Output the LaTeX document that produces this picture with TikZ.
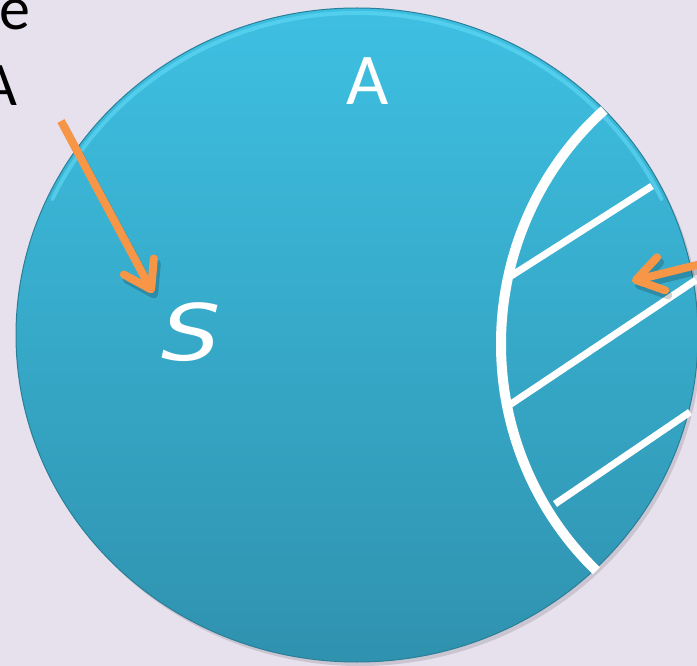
\documentclass[tikz,border=0pt]{standalone}
\usepackage{fontspec}
\setmainfont{Carlito}
\newfontfamily\sfont{DejaVu Sans}
\usetikzlibrary{arrows.meta}
\definecolor{bg}{HTML}{E6E1ED}
\definecolor{topc}{HTML}{3EC0E2}
\definecolor{botc}{HTML}{2F92AF}
\definecolor{rim}{HTML}{2A7F98}
\definecolor{hl}{HTML}{62DAF6}
\definecolor{orng}{HTML}{F79646}
\begin{document}
\begin{tikzpicture}[x=1pt,y=-1pt,
  orangearrow/.style={draw=orng, line width=8pt, -{Straight Barb[length=26pt,width=34pt,round]}},
  arrowshadow/.style={draw=black, opacity=0.18, line width=8pt, -{Straight Barb[length=26pt,width=34pt,round]}},
  whiteline/.style={draw=white, line width=7pt},
  blacktext/.style={anchor=base east, inner sep=0pt, text=black, font=\fontsize{62}{62}\selectfont},
  whitetext/.style={anchor=base, inner sep=0pt, text=white}]
\useasboundingbox (0,0) rectangle (697,666);
\fill[bg] (0,0) rectangle (697,666);
\clip (0,0) rectangle (697,666);
% circle with shadow
\fill[black, opacity=0.12] (360,339) ellipse [x radius=341, y radius=327];
\shade[top color=topc, bottom color=botc, draw=rim, line width=1pt] (357,335) ellipse [x radius=341, y radius=327];
\draw[hl, line width=4pt, opacity=0.6, line cap=round] (357,335) ++(205:336 and 322) arc[start angle=205, end angle=335, x radius=336, y radius=322];
% texts
\node[blacktext] (te) at (31,30) {e};
\node[blacktext] (ta) at (18,106) {A};
\node[whitetext, font=\fontsize{73}{73}\selectfont] (tA) at (368,105) {A};
\node[whitetext, font=\sfont\itshape\fontsize{78}{78}\selectfont, xscale=1.2] (tS) at (191,360) {S};
% white arc and hatching
\draw[whiteline, line width=10pt] (801,344) ++(229:300 and 310) arc[start angle=229, end angle=133, x radius=300, y radius=310];
\coordinate (h1a) at (511,276); \coordinate (h1b) at (652,186);
\coordinate (h2a) at (505,408); \coordinate (h2b) at (696,280);
\coordinate (h3a) at (555,504); \coordinate (h3b) at (690,412);
\draw[whiteline] (h1a) -- (h1b);
\draw[whiteline] (h2a) -- (h2b);
\draw[whiteline] (h3a) -- (h3b);
% orange arrows
\coordinate (a1s) at (61,121); \coordinate (a1e) at (153,293);
\coordinate (a2s) at (705,263); \coordinate (a2e) at (632,281);
\begin{scope}[transform canvas={shift={(3,5)}}]
\draw[arrowshadow] (a1s) -- (a1e);
\draw[arrowshadow] (a2s) -- (a2e);
\end{scope}
\draw[orangearrow] (a1s) -- (a1e);
\draw[orangearrow] (a2s) -- (a2e);
\end{tikzpicture}
\end{document}
